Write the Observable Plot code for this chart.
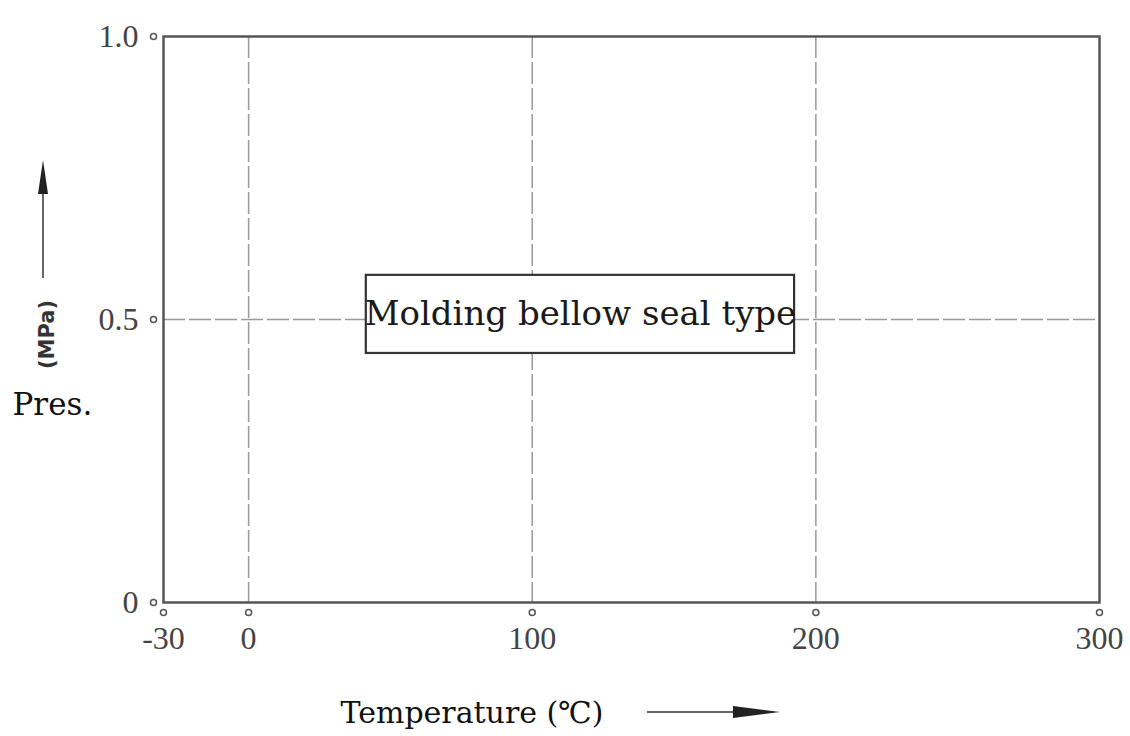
<!DOCTYPE html>
<html><head><meta charset="utf-8">
<script src="https://cdn.jsdelivr.net/npm/d3@7"></script>
<script src="https://cdn.jsdelivr.net/npm/@observablehq/plot@0.6"></script>
<style>
body{margin:0;background:#fff}
</style>
</head><body><div id="chart"></div>
<script>
// Data
const xTicks = [-30, 0, 100, 200, 300];
const xGrid = [0, 100, 200];
const yTicks = [0, 0.5, 1.0];
const yTickLabels = ["0", "0.5", "1.0"];
const yGrid = [0.5];
const boxLabel = "Molding bellow seal type";
const boxX = [41.5, 192.5];
const boxY = [0.44, 0.578];
const boxTextPos = [117, 0.51];
const xTitle = "Temperature (℃)";
const yTitle = "Pres.";
const yUnit = "(MPa)";

function arrows(index, scales, values, dims) {
  const L = dims.marginLeft, T = dims.marginTop;
  const B = dims.height - dims.marginBottom;
  const g = d3.create("svg:g").attr("fill", "#222").attr("stroke", "none");
  const ax = L - 120;
  g.append("line").attr("x1", ax).attr("x2", ax).attr("y1", T + 242).attr("y2", T + 150)
    .attr("stroke", "#333").attr("stroke-width", 1.5);
  g.append("path").attr("d", `M${ax},${T + 124}L${ax - 5},${T + 158}L${ax + 5},${T + 158}Z`);
  const ay = B + 110;
  g.append("line").attr("x1", L + 484).attr("x2", L + 580).attr("y1", ay).attr("y2", ay)
    .attr("stroke", "#333").attr("stroke-width", 1.5);
  g.append("path").attr("d", `M${L + 617},${ay}L${L + 570},${ay - 6}L${L + 570},${ay + 6}Z`);
  return g.node();
}

const tickFont = "'Liberation Serif', serif";

const chart = Plot.plot({
  width: 1130,
  height: 736,
  marginLeft: 163,
  marginRight: 31,
  marginTop: 36,
  marginBottom: 134,
  x: {domain: [-30, 300]},
  y: {domain: [0, 1]},
  style: {background: "#fff", fontFamily: "'DejaVu Serif', serif"},
  marks: [
    Plot.ruleX(xGrid, {stroke: "#999", strokeWidth: 1.5, strokeDasharray: "22,4"}),
    Plot.ruleY(yGrid, {stroke: "#999", strokeWidth: 1.5, strokeDasharray: "22,4"}),
    Plot.frame({stroke: "#555", strokeWidth: 2.5}),
    Plot.rect([0], {x1: () => boxX[0], x2: () => boxX[1], y1: () => boxY[0], y2: () => boxY[1],
      fill: "#fff", stroke: "#333", strokeWidth: 2.2}),
    Plot.text([boxLabel], {x: () => boxTextPos[0], y: () => boxTextPos[1], text: d => d,
      fontSize: 34, fill: "#1a1a1a", fontFamily: "'DejaVu Serif', serif"}),
    Plot.dot(xTicks, {x: d => d, y: () => 0, dy: 10, r: 3, stroke: "#555", strokeWidth: 1.5, fill: "#fff"}),
    Plot.dot(yTicks, {y: d => d, frameAnchor: "left", dx: -10, r: 3, stroke: "#555", strokeWidth: 1.5, fill: "#fff"}),
    Plot.axisX(xTicks, {tickSize: 0, tickPadding: 24, fontSize: 32, fill: "#444",
      fontFamily: tickFont, tickFormat: d => String(d)}),
    Plot.axisY(yTicks, {tickSize: 0, tickPadding: 25, fontSize: 32, fill: "#444",
      fontFamily: tickFont, tickFormat: d => yTickLabels[yTicks.indexOf(d)], label: null}),
    Plot.text([yTitle], {frameAnchor: "left", dx: -151, dy: 86, textAnchor: "start", lineAnchor: "middle",
      fontSize: 31, fill: "#111", fontFamily: "'DejaVu Serif', serif", text: d => d}),
    Plot.text([yUnit], {frameAnchor: "left", dx: -116, dy: 15, rotate: -90, textAnchor: "middle", lineAnchor: "middle",
      fontSize: 21, fontWeight: "bold", fill: "#333", fontFamily: "'DejaVu Sans', sans-serif", text: d => d}),
    Plot.text([xTitle], {frameAnchor: "bottom", dx: -291, dy: 111, textAnchor: "start", lineAnchor: "middle",
      fontSize: 30, fill: "#111", fontFamily: "'DejaVu Serif', serif", text: d => d}),
    arrows
  ]
});
document.getElementById("chart").appendChild(chart);
</script></body></html>
